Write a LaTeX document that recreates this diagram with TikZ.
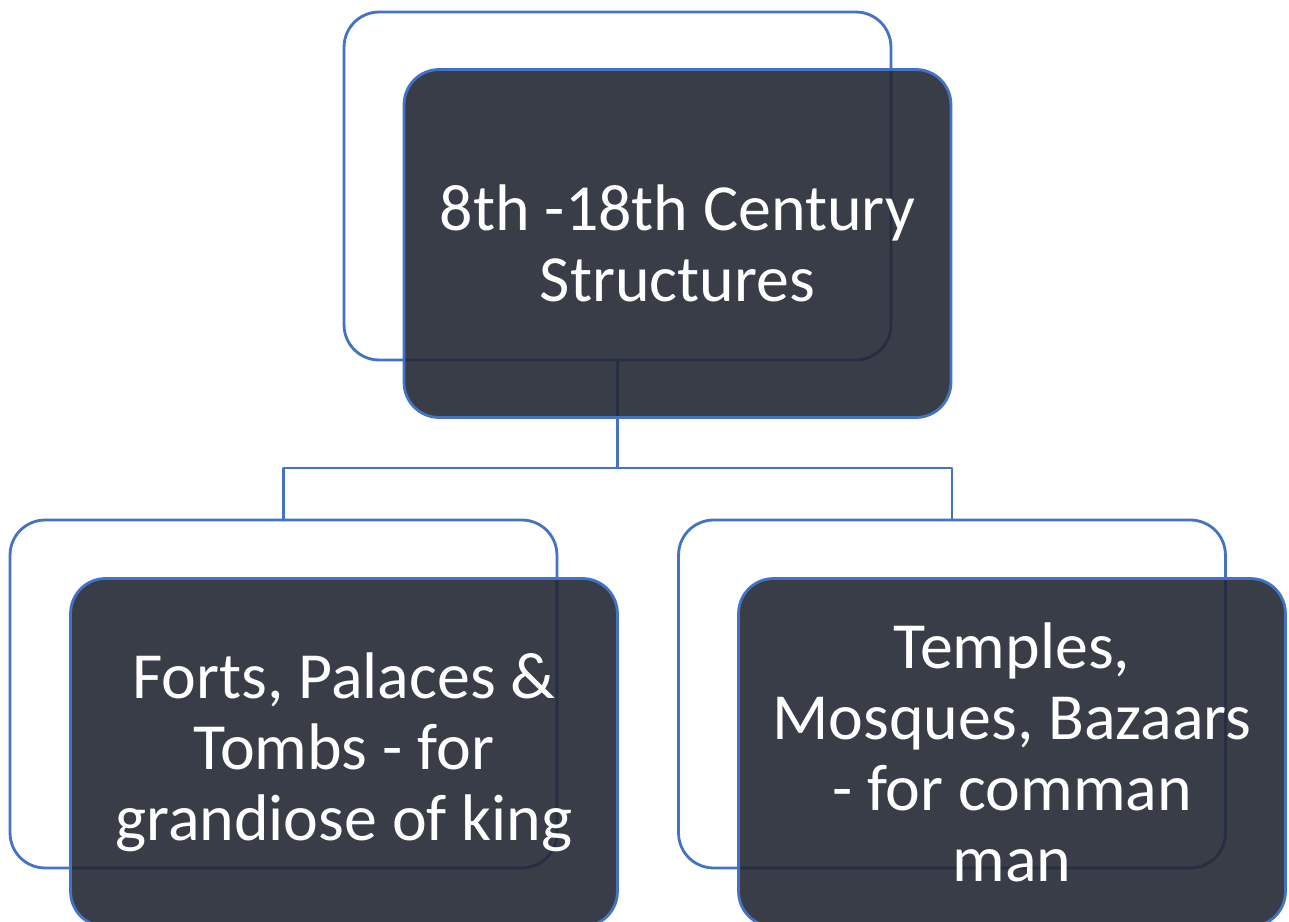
\documentclass[tikz,border=0pt]{standalone}
\usepackage{fontspec}
\setmainfont{Carlito}
\definecolor{boxblue}{RGB}{68,114,196}
\definecolor{boxdark}{RGB}{34,40,51}
\begin{document}
\begin{tikzpicture}[x=0.02cm,y=-0.02cm,line join=round,line cap=round,
	backbox/.style={draw=boxblue,line width=1.6pt,rounded corners=0.7cm,minimum width=10.94cm,minimum height=6.96cm,inner sep=0pt,outer sep=0pt},
	frontbox/.style={backbox,fill=boxdark,fill opacity=0.9,text opacity=1,text=white,align=center,font=\fontsize{37.5}{40.5}\selectfont},
	link/.style={draw=boxblue,line width=1.6pt}]
	\useasboundingbox (0,0) rectangle (1289,922);
	\node[backbox] (topback) at (617.5,186) {};
	\node[backbox] (leftback) at (283.5,694) {};
	\node[backbox] (rightback) at (952,694) {};
	\draw[link] (topback.south) -- ++(0,108) coordinate (split) -| (leftback.north);
	\draw[link] (split) -| (rightback.north);
	\node[frontbox] (top) at (677.5,243.5) {8th -18th Century\\Structures};
	\node[frontbox] (left) at (344,752.5) {Forts, Palaces \&\\Tombs - for\\grandiose of king};
	\node[frontbox] (right) at (1012,752.5) {Temples,\\Mosques, Bazaars\\- for comman\\man};
\end{tikzpicture}
\end{document}
